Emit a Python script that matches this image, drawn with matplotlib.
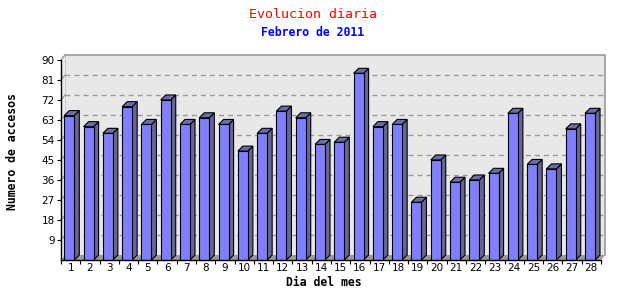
import matplotlib
matplotlib.use('Agg')
import matplotlib.pyplot as plt
from matplotlib.patches import Polygon, Rectangle

days = [str(i) for i in range(1, 29)]
visits = [65, 60, 57, 69, 61, 72, 61, 64, 61, 49, 57, 67, 64, 52, 53, 84,
          60, 61, 26, 45, 35, 36, 39, 66, 43, 41, 59, 66]
y_ticks = [9, 18, 27, 36, 45, 54, 63, 72, 81, 90]
title = "Evolucion diaria"
subtitle = "Febrero de 2011"
xlabel = "Dia del mes"
ylabel = "Numero de accesos"

plt.rcParams['lines.scale_dashes'] = False

W, H = 640, 300
fig = plt.figure(figsize=(6.4, 3.0), dpi=100)
L, R, B, T = 61, 601, 260, 60
ax = fig.add_axes([L / W, 1 - B / H, (R - L) / W, (B - T) / H])
n = len(days)
ymax = 90
ax.set_xlim(0, n)
ax.set_ylim(0, ymax)
ax.set_facecolor('none')
px_x = n / (R - L)
px_y = ymax / (B - T)
dx = 4 * px_x
dy = 5 * px_y

# back panel
ax.add_patch(Polygon([(dx, dy), (n + dx, dy), (n + dx, ymax + dy), (dx, ymax + dy)],
                     closed=True, facecolor='#e8e8e8', edgecolor='none',
                     clip_on=False, zorder=0))
ax.plot([dx, n + dx, n + dx], [ymax + dy, ymax + dy, dy], color='#999999', lw=1.2,
        clip_on=False, zorder=0.8, solid_joinstyle='miter')
# left wall
ax.add_patch(Polygon([(0, 0), (dx, dy), (dx, ymax + dy), (0, ymax)], closed=True,
                     facecolor='#ececec', edgecolor='none', clip_on=False, zorder=0.5))
ax.plot([dx, dx], [dy, ymax + dy], color='#d0d0d0', lw=0.8, clip_on=False, zorder=0.6)
# floor
ax.add_patch(Polygon([(0, 0), (n, 0), (n + dx, dy), (dx, dy)], closed=True,
                     facecolor='#999999', edgecolor='none', clip_on=False, zorder=0.6))
# grid lines on back panel + wall
for v in y_ticks[:-1]:
    ax.plot([dx, n + dx], [v + dy, v + dy], color='#999999', lw=1.0,
            linestyle=(0, (3.6, 2.9)), clip_on=False, zorder=0.7)
    ax.plot([0, dx], [v, v + dy], color='#999999', lw=1.0, clip_on=False, zorder=0.7)
ax.plot([0, dx], [ymax, ymax + dy], color='#999999', lw=1.0, clip_on=False, zorder=0.7)

off = 3.3 * px_x
bw = 10 * px_x
sdx = 5 * px_x
for i, v in enumerate(visits):
    x0 = i + off
    x1 = x0 + bw
    ax.add_patch(Polygon([(x1, 0), (x1 + sdx, dy), (x1 + sdx, v + dy), (x1, v)], closed=True,
                         facecolor='#666699', edgecolor='black', lw=0.8, zorder=2,
                         clip_on=False))
    ax.add_patch(Polygon([(x0, v), (x0 + sdx, v + dy), (x1 + sdx, v + dy), (x1, v)], closed=True,
                         facecolor='#6c6cab', edgecolor='black', lw=0.8, zorder=2,
                         clip_on=False))
    ax.add_patch(Rectangle((x0, 0), bw, v, facecolor='#8080ff', edgecolor='black',
                           lw=0.8, zorder=3, clip_on=False))

for s in ['top', 'right']:
    ax.spines[s].set_visible(False)
for s in ['left', 'bottom']:
    ax.spines[s].set_color('black')
    ax.spines[s].set_linewidth(1.0)
    ax.spines[s].set_zorder(4)

ax.set_yticks(y_ticks)
ax.set_yticklabels([str(v) for v in y_ticks])
ax.tick_params(axis='y', direction='out', length=3, width=0.8, pad=1.5,
               labelsize=7.5, colors='black')
ax.set_xticks(range(n + 1))
ax.set_xticklabels([''] * (n + 1))
ax.set_xticks([i + 0.5 for i in range(n)], minor=True)
ax.set_xticklabels(days, minor=True)
ax.tick_params(axis='x', which='major', direction='out', length=3, width=0.8)
ax.tick_params(axis='x', which='minor', length=0, pad=2, labelsize=7.5)

fig.text(313 / W, 1 - 14 / H, title, color='#ff0000', family='DejaVu Sans Mono',
         fontsize=9.5, ha='center', va='center')
fig.text(313 / W, 1 - 32 / H, subtitle, color='#0000ff', family='DejaVu Sans Mono',
         fontweight='bold', fontsize=8.3, ha='center', va='center')
fig.text(324 / W, 1 - 282 / H, xlabel, color='black', family='DejaVu Sans Mono',
         fontweight='bold', fontsize=8.3, ha='center', va='center')
fig.text(13 / W, 1 - 152 / H, ylabel, color='black', family='DejaVu Sans Mono',
         fontweight='bold', fontsize=8.3, ha='center', va='center', rotation=90)

fig.savefig('out.png', dpi=100, facecolor='white')
